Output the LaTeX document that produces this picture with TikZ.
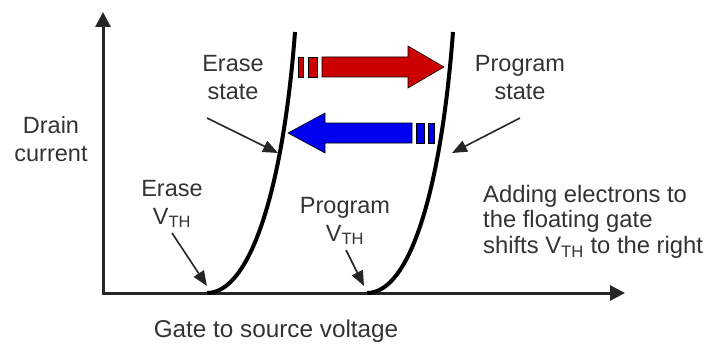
\documentclass[tikz,border=0pt]{standalone}
\usepackage{fontspec}
\setmainfont{Liberation Sans}
\usetikzlibrary{arrows.meta}

\definecolor{fwdred}{RGB}{204,0,0}
\definecolor{backblue}{RGB}{0,0,240}

\begin{document}
\begin{tikzpicture}[
  x=1pt, y=-1pt,
  axis/.style={line width=3pt, draw=black!85, -{Triangle[length=15pt,width=15pt]}},
  curve/.style={line width=4pt, black},
  note/.style={align=center, inner sep=0pt, font=\fontsize{23.5}{28}\selectfont, text=black!80},
  pointer/.style={line width=1.6pt, draw=black!85, -{Triangle[length=15pt,width=12pt]}},
  block/.style={draw=black, line width=0.6pt}
]
\useasboundingbox (0,0) rectangle (710,345);

% axes
\coordinate (origin) at (103,293);
\draw[axis] (103,294.5) -- (103,12);
\draw[axis] (101.5,293) -- (625,293);

% the two characteristics
\draw[curve] (207,293) .. controls (250,293) and (283,190) .. (295,32);
\draw[curve] (367,293) .. controls (410,293) and (441,190) .. (453,32);

% shift arrows
\fill[block, fill=fwdred] (322,57) -- (408,57) -- (408,46) -- (444,67)
  -- (408,88) -- (408,77) -- (322,77) -- cycle;
\fill[block, fill=fwdred] (298,57) rectangle (303,77);
\fill[block, fill=fwdred] (308,57) rectangle (317,77);
\fill[block, fill=backblue] (412,123) -- (325,123) -- (325,113) -- (288,133)
  -- (325,153) -- (325,143) -- (412,143) -- cycle;
\fill[block, fill=backblue] (416,123) rectangle (424,143);
\fill[block, fill=backblue] (428,123) rectangle (434,143);

% labels
\node[note] (drain) at (51,139) {Drain\\current};
\node[note] (erasestate) at (233,78) {Erase\\state};
\node[note] (progstate) at (520,78) {Program\\state};
\node[note] (erasevth) at (172,204) {Erase\\V\textsubscript{TH}};
\node[note] (progvth) at (345,221) {Program\\V\textsubscript{TH}};
\node[note, align=left, anchor=north west, font=\fontsize{23.8}{25.5}\selectfont]
  (shift) at (483,185) {Adding electrons to\\the floating gate\\shifts V\textsubscript{TH} to the right};
\node[note, anchor=base, font=\fontsize{24.3}{28}\selectfont] (gate) at (276,337) {Gate to source voltage};

% pointers
\coordinate (erasestatetail) at (207,118);
\coordinate (erasestatetip) at (278,153);
\coordinate (progstatetail) at (520,118);
\coordinate (progstatetip) at (452,153);
\coordinate (erasevthtail) at (172,233);
\coordinate (erasevthtip) at (207,286);
\coordinate (progvthtail) at (346,250);
\coordinate (progvthtip) at (364,286);
\draw[pointer] (erasestatetail) -- (erasestatetip);
\draw[pointer] (progstatetail) -- (progstatetip);
\draw[pointer] (erasevthtail) -- (erasevthtip);
\draw[pointer] (progvthtail) -- (progvthtip);
\end{tikzpicture}
\end{document}
